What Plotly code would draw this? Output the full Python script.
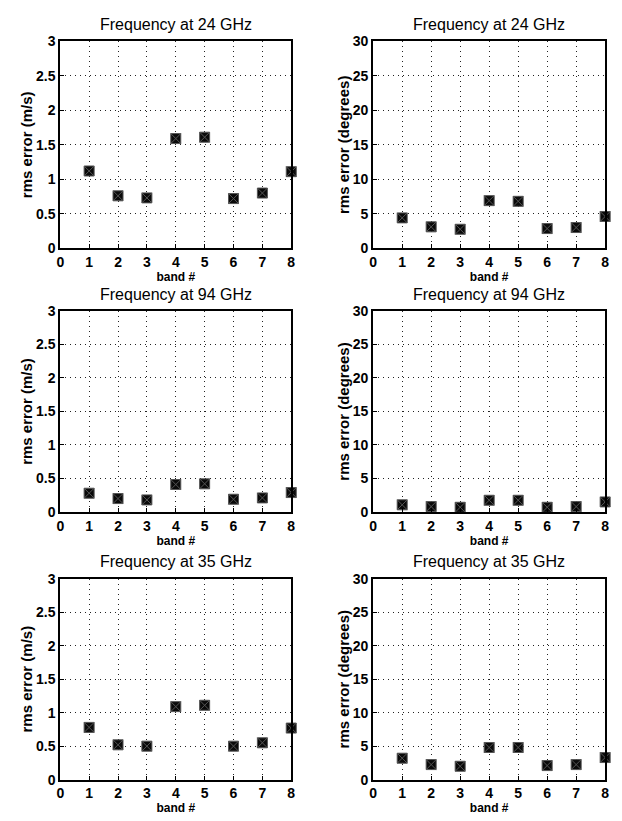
import plotly.graph_objects as go

bands = [1, 2, 3, 4, 5, 6, 7, 8]
x_ticks = [0, 1, 2, 3, 4, 5, 6, 7, 8]

vel_24 = [1.12, 0.76, 0.73, 1.59, 1.61, 0.72, 0.80, 1.11]
ang_24 = [4.4, 3.1, 2.75, 6.9, 6.8, 2.85, 3.0, 4.6]
vel_94 = [0.28, 0.20, 0.18, 0.41, 0.42, 0.19, 0.21, 0.29]
ang_94 = [1.07, 0.8, 0.7, 1.75, 1.75, 0.7, 0.8, 1.5]
vel_35 = [0.78, 0.52, 0.50, 1.09, 1.11, 0.50, 0.55, 0.77]
ang_35 = [3.2, 2.25, 2.0, 4.8, 4.8, 2.1, 2.25, 3.3]

titles = ["Frequency at 24 GHz", "Frequency at 24 GHz",
          "Frequency at 94 GHz", "Frequency at 94 GHz",
          "Frequency at 35 GHz", "Frequency at 35 GHz"]
series = [vel_24, ang_24, vel_94, ang_94, vel_35, ang_35]
y_titles = ["rms error (m/s)", "rms error (degrees)"] * 3
vel_ticks = [0, 0.5, 1, 1.5, 2, 2.5, 3]
vel_ticklabels = ["0", "0.5", "1", "1.5", "2", "2.5", "3"]
ang_ticks = [0, 5, 10, 15, 20, 25, 30]

W, H = 622, 821
col_x = [(57, 291), (374, 609)]
row_y = [(34, 245), (309, 514), (582, 787)]

FONT = "Liberation Sans, Arial, sans-serif"
fig = go.Figure()
annotations = []
for i in range(6):
    r, c = divmod(i, 2)
    n = i + 1
    xa = "x" if n == 1 else f"x{n}"
    ya = "y" if n == 1 else f"y{n}"
    fig.add_trace(go.Scatter(
        x=bands, y=series[i], mode="markers", xaxis=xa, yaxis=ya,
        marker=dict(symbol="square-x", size=10, color="#0a0a0a",
                    line=dict(color="#555", width=1)),
        cliponaxis=False, showlegend=False))
    x0, x1 = col_x[c]
    y0, y1 = row_y[r]
    dom_x = [x0 / W, x1 / W]
    dom_y = [1 - y1 / H, 1 - y0 / H]
    is_vel = (c == 0)
    common = dict(showline=True, linecolor="black", linewidth=2, mirror=True,
                  showgrid=True, gridcolor="#222", griddash="1px,4px", gridwidth=1,
                  zeroline=False, ticks="inside", ticklen=4, tickcolor="black",
                  tickfont=dict(family=FONT, size=14, color="black", weight="bold"))
    fig.layout[("xaxis" if n == 1 else f"xaxis{n}")] = dict(
        domain=dom_x, anchor=ya, range=[0, 8], tickvals=x_ticks,
        title=dict(text="band #", standoff=0,
                   font=dict(family=FONT, size=12, color="black", weight="bold")),
        **common)
    fig.layout[("yaxis" if n == 1 else f"yaxis{n}")] = dict(
        domain=dom_y, anchor=xa,
        range=[0, 3] if is_vel else [0, 30],
        tickvals=vel_ticks if is_vel else ang_ticks,
        ticktext=vel_ticklabels if is_vel else [str(t) for t in ang_ticks],
        title=dict(text=y_titles[i], standoff=0,
                   font=dict(family=FONT, size=15, color="black", weight="bold")),
        **common)
    annotations.append(dict(
        text=titles[i], xref="paper", yref="paper",
        x=(dom_x[0] + dom_x[1]) / 2, y=dom_y[1] + 17 / H,
        xanchor="center", yanchor="middle", showarrow=False,
        font=dict(family=FONT, size=16, color="black")))

fig.update_layout(width=W, height=H, margin=dict(l=0, r=0, t=0, b=0),
                  paper_bgcolor="white", plot_bgcolor="white",
                  annotations=annotations)
fig.write_html("out.html")
